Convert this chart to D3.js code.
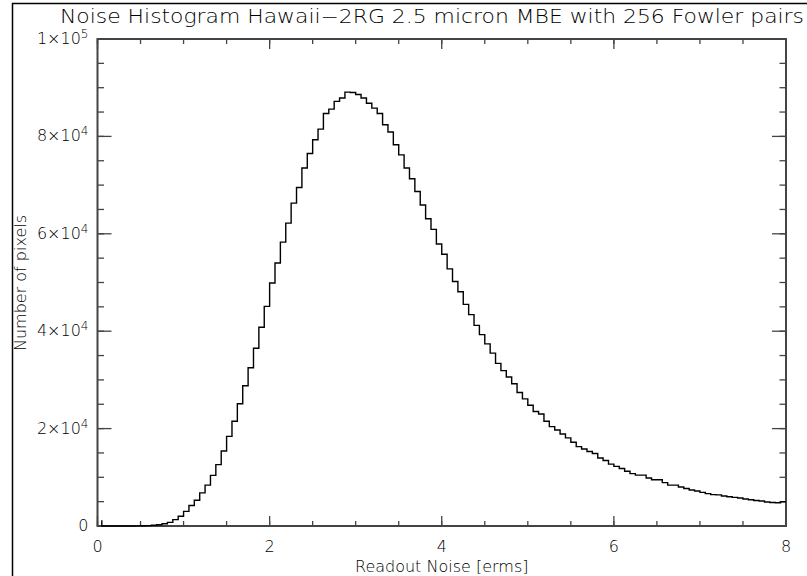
<!DOCTYPE html>
<html>
<head>
<meta charset="utf-8">
<script src="https://cdn.jsdelivr.net/npm/d3@7"></script>
<style>
  body { margin: 0; background: #fff; }
  text { font-family: "DejaVu Sans", "Liberation Sans", sans-serif; font-weight: 200; fill: #000; }
</style>
</head>
<body>
<div id="chart"></div>
<script>
// histogram of readout noise, bin width 0.0625 erms starting at 0
var binStart = 0,
  binWidth = 0.0625;

var counts = [
  0, 0, 0, 0, 0, 0, 10, 20, 40, 80,
  150, 270, 470, 740, 1300, 2000, 3000, 4200, 5300, 6800,
  8400, 10400, 12600, 15400, 18400, 21500, 25100, 28800, 32500, 36500,
  40800, 45100, 49900, 54000, 58300, 62200, 66300, 69500, 73500, 76500,
  79300, 81500, 84700, 85600, 87200, 87900, 89100, 89000, 88600, 87900,
  86800, 85800, 84700, 82400, 80900, 78300, 76200, 73500, 71300, 68700,
  65900, 63100, 60900, 57900, 55800, 52800, 50200, 48100, 45500, 43400,
  41200, 39300, 37400, 35500, 33400, 31900, 30600, 29200, 27400, 26100,
  24800, 23500, 23000, 21500, 20400, 19700, 18900, 18100, 17200, 16300,
  15800, 15300, 14900, 13950, 13460, 12700, 12250, 11800, 11250, 10750,
  10450, 10450, 9850, 9500, 9500, 8900, 8400, 8400, 8000, 7700,
  7400, 7200, 6900, 6650, 6450, 6400, 6150, 6000, 5870, 5750,
  5550, 5400, 5250, 5130, 4920, 4840, 4780, 4990
];

// short spike where the plotted curve begins
var leadX = [0.05],
  leadY = [1200];

var xTicks = [0, 2, 4, 6, 8],
  xMinor = d3.range(0, 8.01, 0.5),
  yTicks = [0, 20000, 40000, 60000, 80000, 100000],
  yTickLabels = [["0", ""], ["2", "4"], ["4", "4"], ["6", "4"], ["8", "4"], ["1", "5"]],
  yMinor = d3.range(0, 100001, 5000);

var title = "Noise Histogram Hawaii\u22122RG 2.5 micron MBE with 256 Fowler pairs",
  xTitle = "Readout Noise [erms]",
  yTitle = "Number of pixels";

var width = 807,
  height = 576,
  margin = {left: 97.5, right: 21, top: 39, bottom: 50},
  axisColor = "#444";

var svg = d3.select("#chart").append("svg")
  .attr("width", width)
  .attr("height", height);

var x = d3.scaleLinear().domain([0, 8]).range([margin.left, width - margin.right]),
  y = d3.scaleLinear().domain([0, 100000]).range([height - margin.bottom, margin.top]);

// page frame
svg.append("path")
  .attr("d", "M12.5," + height + "V3.5H" + width)
  .attr("fill", "none")
  .attr("stroke", "#000")
  .attr("stroke-width", 1.5);

svg.append("text")
  .attr("x", 432)
  .attr("y", 23)
  .attr("text-anchor", "middle")
  .attr("font-size", 19)
  .attr("textLength", 744)
  .attr("lengthAdjust", "spacingAndGlyphs")
  .text(title);

// ticks on all four sides
var gAxis = svg.append("g").attr("stroke", axisColor);

function tickSet(vals, len, scale, side) {
  vals.forEach(function(v) {
    var p = scale(v);
    if (side === "bottom") gAxis.append("line").attr("x1", p).attr("x2", p).attr("y1", y(0)).attr("y2", y(0) - len);
    if (side === "top") gAxis.append("line").attr("x1", p).attr("x2", p).attr("y1", y(100000)).attr("y2", y(100000) + len);
    if (side === "left") gAxis.append("line").attr("y1", p).attr("y2", p).attr("x1", x(0)).attr("x2", x(0) + len);
    if (side === "right") gAxis.append("line").attr("y1", p).attr("y2", p).attr("x1", x(8)).attr("x2", x(8) - len);
  });
}
tickSet(xMinor, 5, x, "bottom");
tickSet(xMinor, 5, x, "top");
tickSet(xTicks, 10, x, "bottom");
tickSet(xTicks, 10, x, "top");
tickSet(yMinor, 6.5, y, "left");
tickSet(yMinor, 6.5, y, "right");
tickSet(yTicks, 14, y, "left");
tickSet(yTicks, 14, y, "right");
gAxis.selectAll("line").attr("stroke-width", 1.3);

svg.append("rect")
  .attr("x", x(0))
  .attr("y", y(100000))
  .attr("width", x(8) - x(0))
  .attr("height", y(0) - y(100000))
  .attr("fill", "none")
  .attr("stroke", axisColor)
  .attr("stroke-width", 2);

// tick labels
svg.append("g").selectAll("text")
  .data(xTicks)
  .enter().append("text")
  .attr("x", function(d) { return x(d); })
  .attr("y", y(0) + 26)
  .attr("text-anchor", "middle")
  .attr("font-size", 16)
  .text(function(d) { return d; });

var yl = svg.append("g").selectAll("text")
  .data(yTicks)
  .enter().append("text")
  .attr("x", x(0) - 9)
  .attr("y", function(d) { return y(d) + 5; })
  .attr("text-anchor", "end")
  .attr("font-size", 16);

yl.each(function(d, i) {
  var t = d3.select(this),
    lab = yTickLabels[i];
  if (lab[1] === "") {
    t.text(lab[0]);
    return;
  }
  t.append("tspan").text(lab[0] + "\u00d710");
  t.append("tspan").attr("dy", -6).attr("font-size", 12).text(lab[1]);
});

svg.append("text")
  .attr("x", (x(0) + x(8)) / 2)
  .attr("y", 572)
  .attr("text-anchor", "middle")
  .attr("font-size", 16)
  .text(xTitle);

svg.append("text")
  .attr("transform", "translate(26," + 283 + ") rotate(-90)")
  .attr("text-anchor", "middle")
  .attr("font-size", 16)
  .text(yTitle);

// histogram steps
var pts = [];
for (var i = 0; i < leadX.length; i++) {
  pts.push([leadX[i], leadY[i]]);
  pts.push([leadX[i], counts[0]]);
}
counts.forEach(function(c, i) {
  var e = binStart + i * binWidth;
  if (e > leadX[0]) pts.push([e, c]);
});
pts.push([binStart + counts.length * binWidth, counts[counts.length - 1]]);

var line = d3.line()
  .x(function(d) { return x(d[0]); })
  .y(function(d) { return y(d[1]); })
  .curve(d3.curveStepAfter);

svg.append("path")
  .datum(pts)
  .attr("d", line)
  .attr("fill", "none")
  .attr("stroke", "#000")
  .attr("stroke-width", 1.4);
</script>
</body>
</html>
